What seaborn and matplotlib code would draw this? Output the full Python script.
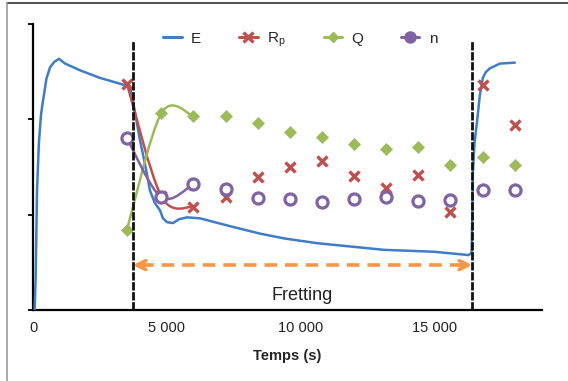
"""
Fretting test: E, Rp, Q and n versus time.
Values read off the reference picture (arbitrary units on the y axis).
"""
import numpy as np
import matplotlib
matplotlib.use("Agg")
import matplotlib.pyplot as plt
from matplotlib.lines import Line2D
from matplotlib.path import Path
from matplotlib.patches import PathPatch
import seaborn as sns

# --- data -------------------------------------------------------------------
# E: continuous measurement
e_time = [60, 100, 150, 220, 300, 373, 500, 634, 800, 970,
          1200, 1754, 2500, 3000, 3358, 3545, 3650, 3731, 3993, 4200,
          4366, 4550, 4739, 4851, 5000, 5224, 5450, 5746, 6231, 7463,
          8470, 9366, 10597, 13097, 14963, 16269, 16370, 16400, 16418, 16480,
          16567, 16680, 16791, 16900, 17052, 17425, 17985]
e_value = [0.0, 0.35, 1.25, 1.75, 2.05, 2.19, 2.42, 2.54, 2.60, 2.63,
           2.58, 2.51, 2.43, 2.39, 2.36, 2.36, 2.30, 2.19, 1.78, 1.50,
           1.25, 1.12, 1.045, 0.96, 0.92, 0.91, 0.95, 0.97, 0.96, 0.87,
           0.80, 0.75, 0.70, 0.63, 0.61, 0.575, 0.60, 1.00, 1.43, 1.75,
           1.95, 2.25, 2.43, 2.49, 2.53, 2.58, 2.59]

# discrete points (same sampling times for Rp, Q and n)
pt_time = [3507, 4790, 5990, 7200, 8400, 9590, 10780, 11980, 13170, 14370,
           15560, 16790, 17985]
rp_value = [2.37, 1.19, 1.08, 1.18, 1.39, 1.50, 1.56, 1.40, 1.28, 1.41,
            1.03, 2.36, 1.94]
q_value = [0.84, 2.06, 2.03, 2.03, 1.96, 1.86, 1.81, 1.74, 1.69, 1.71,
           1.52, 1.60, 1.52]
n_value = [1.80, 1.18, 1.32, 1.27, 1.17, 1.16, 1.13, 1.16, 1.18, 1.14,
           1.15, 1.26, 1.26]
n_joined = 3  # the first three points of each series are joined by a smooth line

fretting_start = 3730
fretting_end = 16390
arrow_y = 0.47

x_ticks = [0, 5000, 10000, 15000]
x_labels = ["0", "5 000", "10 000", "15 000"]

C_E = "#3F7DC6"
C_RP = "#C0504D"
C_Q = "#9BBB59"
C_N = "#8064A2"
C_ARROW = "#F79646"


def smooth_path(xs, ys):
    """Excel-like smoothed line: Catmull-Rom segments as cubic Beziers."""
    pts = np.column_stack([xs, ys]).astype(float)
    ext = np.vstack([pts[0], pts, pts[-1]])
    verts = [pts[0]]
    codes = [Path.MOVETO]
    for i in range(1, len(ext) - 2):
        p0, p1, p2, p3 = ext[i - 1], ext[i], ext[i + 1], ext[i + 2]
        verts += [p1 + (p2 - p0) / 6, p2 - (p3 - p1) / 6, p2]
        codes += [Path.CURVE4] * 3
    return Path(verts, codes)


# --- figure -----------------------------------------------------------------
sns.set_theme(style="white")
plt.rcParams["font.family"] = ["Liberation Sans", "DejaVu Sans"]

fig, ax = plt.subplots(figsize=(5.68, 3.81), dpi=100)
fig.subplots_adjust(left=33 / 568, right=542 / 568, bottom=1 - 310 / 381, top=1 - 23.5 / 381)

# E curve
sns.lineplot(x=e_time, y=e_value, ax=ax, color=C_E, lw=1.8, sort=False, zorder=3)

# smooth joins for the first points
for vals, col in [(rp_value, C_RP), (q_value, C_Q), (n_value, C_N)]:
    ax.add_patch(PathPatch(smooth_path(pt_time[:n_joined], vals[:n_joined]),
                           facecolor="none", edgecolor=col, lw=1.8, zorder=4))

# markers
sns.lineplot(x=pt_time, y=rp_value, ax=ax, linestyle="none", marker="x",
             color=C_RP, markersize=7.5, markeredgewidth=2.4, markeredgecolor=C_RP, zorder=5)
sns.lineplot(x=pt_time, y=q_value, ax=ax, linestyle="none", marker="D",
             color=C_Q, markersize=6, markeredgewidth=0.5, markeredgecolor=C_Q, zorder=5)
sns.lineplot(x=pt_time, y=n_value, ax=ax, linestyle="none", marker="o",
             color=C_N, markersize=8, markeredgewidth=2.3, markeredgecolor=C_N,
             markerfacecolor="white", zorder=6)

# fretting boundaries
ax.vlines([fretting_start, fretting_end], 0, 2.83, colors="#111111", lw=2,
          linestyles=[(0, (3, 0.6))], zorder=7)

# fretting arrow
ax.plot([fretting_start + 300, fretting_end - 300], [arrow_y, arrow_y],
        color=C_ARROW, lw=2.6, ls=(0, (3.5, 2.2)), zorder=2)
for tip, tail in [(fretting_start, fretting_start + 500), (fretting_end, fretting_end - 500)]:
    ax.annotate("", xy=(tip, arrow_y), xytext=(tail, arrow_y),
                arrowprops=dict(arrowstyle="->", color=C_ARROW, lw=2.6,
                                mutation_scale=16, shrinkA=0, shrinkB=0))
ax.text((fretting_start + fretting_end) / 2, 0.15, "Fretting", ha="center", va="center",
        fontsize=13, color="#222222")

# axes
ax.set_xlim(0, 19000)
ax.set_ylim(0, 3)
ax.set_xticks(x_ticks)
ax.set_xticklabels(x_labels)
ax.set_yticks([0, 1, 2, 3])
ax.set_yticklabels([])
ax.set_xlabel("Temps (s)", fontsize=10.5, fontweight="bold", labelpad=10)
ax.set_ylabel("")
ax.tick_params(axis="x", direction="in", length=4, width=1.3, colors="black",
               labelsize=10.5, labelcolor="#222222", pad=8)
ax.tick_params(axis="y", direction="out", length=3.5, width=1.3, colors="black", left=True)
for side in ["top", "right"]:
    ax.spines[side].set_visible(False)
for side in ["left", "bottom"]:
    ax.spines[side].set_color("black")
    ax.spines[side].set_linewidth(1.6)

# legend
handles = [
    Line2D([], [], color=C_E, lw=2.2),
    Line2D([], [], color=C_RP, lw=2.2, marker="x", ms=7, mew=2.4),
    Line2D([], [], color=C_Q, lw=2.2, marker="D", ms=5),
    Line2D([], [], color=C_N, lw=2.2, marker="o", ms=7, mew=2, mfc=C_N),
]
ax.legend(handles, ["E", "R$_\\mathregular{p}$", "Q", "n"], loc="center",
          bbox_to_anchor=(0.525, 0.942), ncol=4, frameon=False, fontsize=11,
          handlelength=1.2, handletextpad=0.6, columnspacing=2.5)

# figure frame (top and left edges only)
fig.add_artist(Line2D([7 / 568, 1], [1 - 2.5 / 381, 1 - 2.5 / 381], color="#333333", lw=1.2))
fig.add_artist(Line2D([7 / 568, 7 / 568], [0, 1 - 2.5 / 381], color="#999999", lw=1.2))

fig.savefig("out.png", dpi=100)
